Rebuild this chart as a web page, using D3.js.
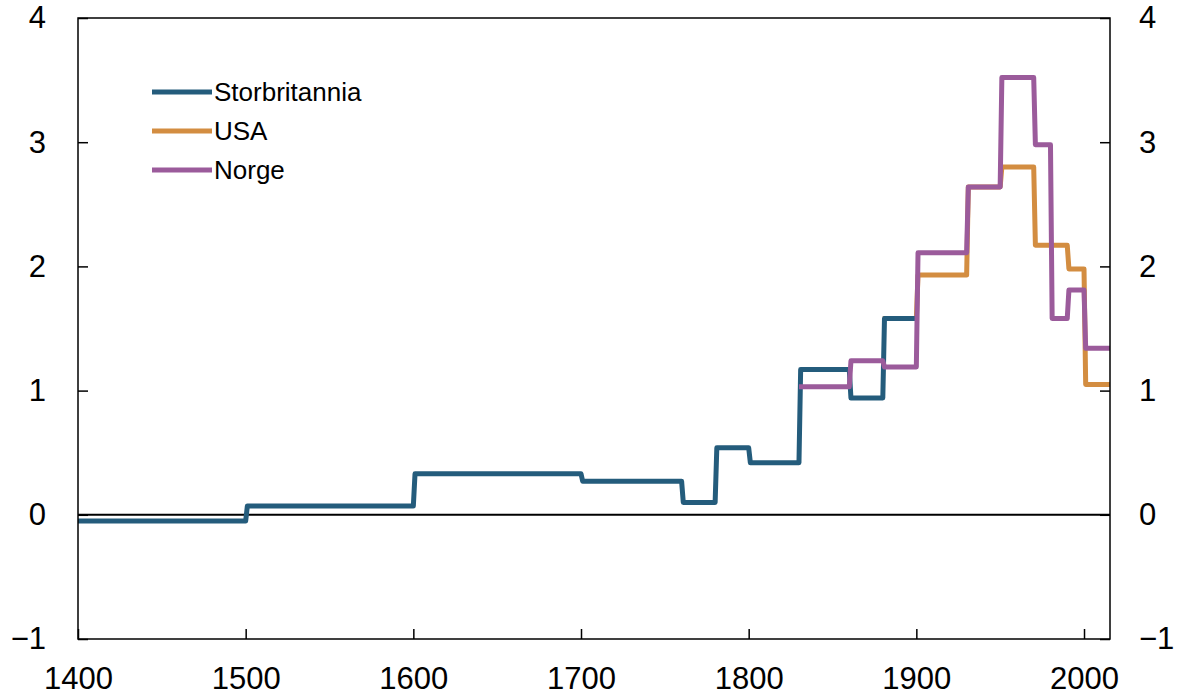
<!DOCTYPE html>
<html><head><meta charset="utf-8">
<script src="https://cdn.jsdelivr.net/npm/d3@7"></script>
<style>body{margin:0;background:#fff}svg{display:block}text{font-family:"Liberation Sans",Arial,sans-serif;fill:#000}</style>
</head><body><svg id="c" width="1177" height="699"></svg>
<script>
// period boundaries (last entry = end year) and per-period values
const ukYears = [1400,1500,1600,1700,1760,1780,1800,1830,1860,1880,1900];
const ukValues = [-0.05,0.07,0.33,0.27,0.10,0.54,0.42,1.17,0.94,1.58];
const usYears = [1880,1900,1930,1950,1970,1990,2000,2015.5];
const usValues = [1.58,1.93,2.64,2.80,2.17,1.98,1.05];
const noYears = [1830,1860,1880,1900,1930,1950,1970,1980,1990,2000,2015.5];
const noValues = [1.03,1.24,1.19,2.11,2.64,3.52,2.98,1.58,1.81,1.34];
const seriesNames = ["Storbritannia","USA","Norge"];
const seriesColors = ["#245c7c","#d38d41","#9b5b9b"];
const xTicks = [1400,1500,1600,1700,1800,1900,2000];
const yTicks = [-1,0,1,2,3,4];

const svg = d3.select("#c");
const L=78, R=1110, T=18, B=639;
const x = d3.scaleLinear().domain([1400,2015.5]).range([L,R]);
const y = d3.scaleLinear().domain([-1,4]).range([B,T]);

function stepPoints(years, vals){
  const pts=[];
  vals.forEach((v,i)=>{
    const s = i===0 ? years[i] : years[i]+1;
    pts.push([s,v]); pts.push([years[i+1],v]);
  });
  return pts;
}
const line = d3.line().x(d=>x(d[0])).y(d=>y(d[1]));

// zero line
svg.append("line").attr("x1",L).attr("x2",R).attr("y1",y(0)).attr("y2",y(0))
  .attr("stroke","#000").attr("stroke-width",2);

const series = [
  {name:"USA", pts:stepPoints(usYears,usValues), color:seriesColors[1]},
  {name:"Storbritannia", pts:stepPoints(ukYears,ukValues), color:seriesColors[0]},
  {name:"Norge", pts:stepPoints(noYears,noValues), color:seriesColors[2]}
];
series.forEach(s=>{
  svg.append("path").attr("d",line(s.pts)).attr("fill","none")
    .attr("stroke",s.color).attr("stroke-width",5)
    .attr("stroke-linejoin","round").attr("stroke-linecap","butt");
});

// frame
svg.append("rect").attr("x",L).attr("y",T).attr("width",R-L).attr("height",B-T)
  .attr("fill","none").attr("stroke","#000").attr("stroke-width",1.5);

// axes
const fs = 31;
const ax = svg.append("g").attr("transform",`translate(0,${B})`)
  .call(d3.axisBottom(x).tickValues(xTicks).tickSize(-10).tickPadding(28).tickFormat(d3.format("d")));
const ayl = svg.append("g").attr("transform",`translate(${L},0)`)
  .call(d3.axisLeft(y).tickValues(yTicks).tickSize(-10).tickPadding(32).tickFormat(d=>d<0?"\u22121":String(d)));
const ayr = svg.append("g").attr("transform",`translate(${R},0)`)
  .call(d3.axisRight(y).tickValues(yTicks).tickSize(-10).tickPadding(29).tickFormat(d=>d<0?"\u22121":String(d)));
[ax,ayl,ayr].forEach(g=>{
  g.select(".domain").remove();
  g.selectAll(".tick line").attr("stroke","#000").attr("stroke-width",1.5);
  g.selectAll("text").attr("font-size",fs).attr("font-family","Liberation Sans, Arial, sans-serif");
});

// legend
const lg = svg.append("g");
seriesNames.forEach((n,i)=>{
  const yy = 92 + i*39;
  lg.append("line").attr("x1",152).attr("x2",212).attr("y1",yy).attr("y2",yy)
    .attr("stroke",seriesColors[i]).attr("stroke-width",5);
  lg.append("text").attr("x",214).attr("y",yy).attr("dy","0.35em").attr("font-size",26).text(n);
});
</script></body></html>
